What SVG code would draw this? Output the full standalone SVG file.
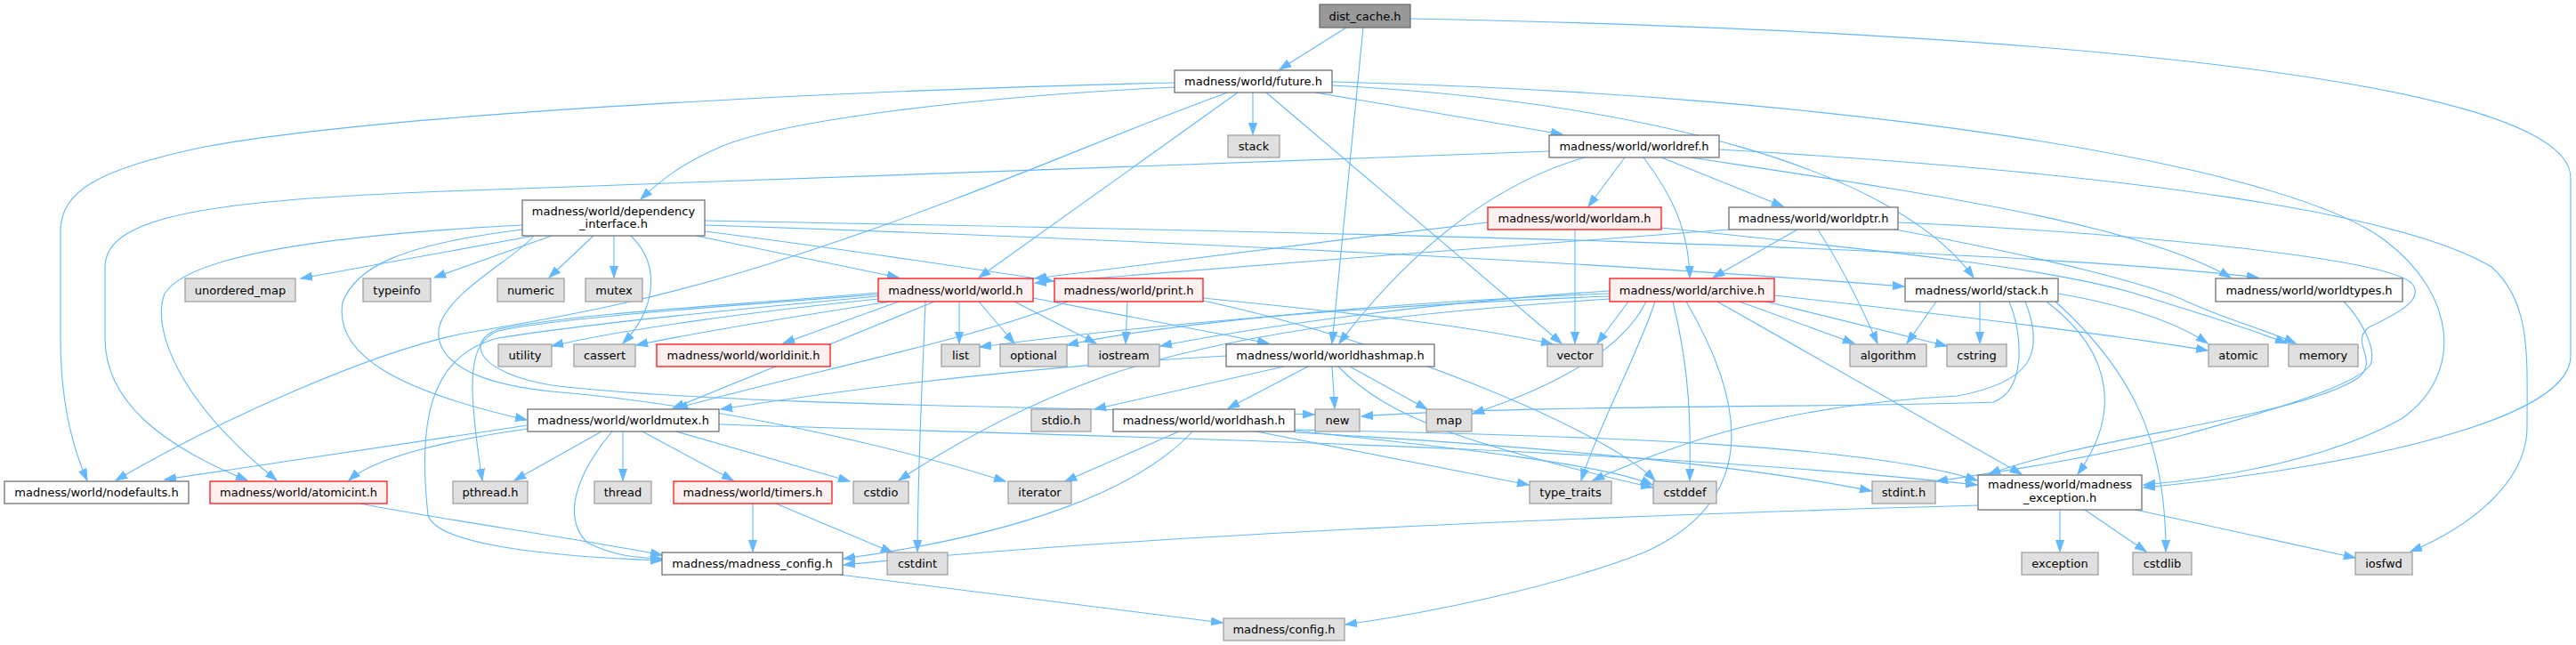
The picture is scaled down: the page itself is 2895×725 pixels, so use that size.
<svg xmlns="http://www.w3.org/2000/svg" width="2895" height="725" viewBox="0 0 2895 725">
<defs>
<marker id="a" markerWidth="14" markerHeight="10" refX="13" refY="5" orient="auto" markerUnits="userSpaceOnUse"><path d="M0,0.5 L13,5 L0,9.5 z" fill="#63b8ff" stroke="#63b8ff" stroke-width="1"/></marker>
<style>
.e path{fill:none;stroke:#63b8ff;stroke-width:1.1;marker-end:url(#a)}
rect{stroke-width:1.2}
.w rect{fill:#ffffff;stroke:#666666}
.g rect{fill:#e0e0e0;stroke:#999999}
.r rect{fill:#fff0f0;stroke:#ff0000}
.d rect{fill:#999999;stroke:#666666}
text{font-family:'DejaVu Sans',sans-serif;font-size:13px;text-anchor:middle;fill:#000000}
</style>
</defs>
<rect x="0" y="0" width="2895" height="725" fill="#ffffff"/>
<g class="e" id="edges">
<path d="M1513,31 L1438,78"/>
<path d="M1532,31 L1497,386"/>
<path d="M1585,21 C2300,35 2889,90 2889,200 L2889,400 C2889,480 2600,530 2409,548"/>
<path d="M1408,104 L1408,151"/>
<path d="M1320,98 C1100,108 880,135 810,165 C770,182 745,200 720,224"/>
<path d="M1320,93 C1000,100 450,125 230,165 C110,190 68,215 68,260 L68,380 C68,450 80,500 98,540"/>
<path d="M1380,104 C1250,150 1100,220 900,285 C750,335 640,355 520,375 C420,395 250,470 130,540"/>
<path d="M1391,104 L1100,312"/>
<path d="M1423,104 L1755,386"/>
<path d="M1478,104 L1756,151"/>
<path d="M1497,96 C1850,115 2130,190 2218,312"/>
<path d="M1497,92 C2050,105 2560,180 2680,270 C2760,330 2770,420 2700,470 C2630,510 2520,535 2409,545"/>
<path d="M1826,177 L1785,232"/>
<path d="M1847,177 C1880,220 1898,260 1899,312"/>
<path d="M1867,177 L2004,232"/>
<path d="M1741,170 C1400,182 800,205 500,215 C250,225 118,240 118,300 L118,380 C118,450 180,500 278,540"/>
<path d="M1781,177 C1700,200 1600,260 1505,386"/>
<path d="M1932,168 C2400,195 2700,240 2800,300 C2845,340 2840,400 2840,480 C2840,540 2780,590 2709,620"/>
<path d="M1900,177 C2150,215 2400,250 2507,312"/>
<path d="M1770,258 L1770,386"/>
<path d="M1672,250 C1500,270 1300,295 1163,313"/>
<path d="M1943,258 C1700,275 1400,300 1163,318"/>
<path d="M2020,258 L1925,312"/>
<path d="M2043,258 C2070,300 2090,340 2110,386"/>
<path d="M2133,250 C2400,262 2680,290 2710,318 C2725,335 2700,350 2662,368 C2640,385 2675,405 2650,425 C2580,470 2350,490 2235,533"/>
<path d="M1867,256 C2100,280 2300,300 2400,330 C2480,355 2530,370 2570,386"/>
<path d="M2130,258 C2300,290 2420,320 2460,340 C2510,362 2550,372 2580,386"/>
<path d="M2176,339 L2143,386"/>
<path d="M2225,339 L2225,386"/>
<path d="M2258,339 C2275,380 2275,440 2240,452 C2100,458 1700,455 1530,468"/>
<path d="M2276,339 C2300,400 2280,430 2200,445 C2000,455 1880,500 1790,540"/>
<path d="M2300,339 C2380,400 2380,470 2335,533"/>
<path d="M2310,339 C2400,420 2434,500 2434,620"/>
<path d="M2313,330 C2400,345 2450,365 2481,386"/>
<path d="M2634,339 C2650,355 2672,390 2664,410 C2650,432 2560,460 2450,490 C2350,515 2250,530 2176,541"/>
<path d="M1830,339 L1795,386"/>
<path d="M1860,339 C1840,400 1800,470 1777,540"/>
<path d="M1880,339 C1900,420 1900,480 1899,540"/>
<path d="M1895,339 C1960,450 1980,560 1850,620 C1750,660 1600,690 1512,702"/>
<path d="M1930,339 L2272,533"/>
<path d="M1955,339 L2084,386"/>
<path d="M1985,339 L2188,389"/>
<path d="M1994,332 C2200,355 2400,380 2481,394"/>
<path d="M1850,339 C1820,400 1730,440 1655,465"/>
<path d="M1809,336 C1600,350 1400,370 1250,420 C1150,455 1070,500 1010,540"/>
<path d="M1809,333 C1500,345 1250,370 1101,390"/>
<path d="M1809,330 C1550,340 1300,365 1199,388"/>
<path d="M1809,327 C1600,340 1400,370 1304,389"/>
<path d="M987,336 C850,350 700,370 620,389"/>
<path d="M1000,339 C900,355 800,370 715,388"/>
<path d="M1010,339 L880,386"/>
<path d="M1078,339 L1078,386"/>
<path d="M1100,339 L1140,386"/>
<path d="M1140,339 L1232,386"/>
<path d="M1161,335 L1426,386"/>
<path d="M1040,339 C1038,400 1032,500 1031,620"/>
<path d="M987,331 C800,345 620,358 560,372 C525,385 525,430 542,540"/>
<path d="M987,333 C800,350 650,365 560,380 C480,400 470,480 481,579 C490,610 600,625 744,630"/>
<path d="M987,329 C800,345 650,352 560,370 C520,385 540,420 620,433 C800,455 1200,458 1477,466"/>
<path d="M1050,339 L756,459"/>
<path d="M600,265 L338,313"/>
<path d="M620,265 L488,312"/>
<path d="M667,265 L617,312"/>
<path d="M690,265 L690,312"/>
<path d="M709,265 C745,300 735,350 700,386"/>
<path d="M782,265 L1010,312"/>
<path d="M792,260 C950,280 1080,300 1184,316"/>
<path d="M587,253 C350,265 210,290 185,330 C170,370 200,450 311,540"/>
<path d="M587,258 C450,275 400,300 385,340 C375,400 450,440 592,472"/>
<path d="M600,265 C580,290 500,330 493,370 C490,400 520,430 620,440 C800,455 1000,500 1130,541"/>
<path d="M792,253 C1300,270 1800,295 2140,322"/>
<path d="M792,248 C1300,258 2200,272 2538,312"/>
<path d="M1267,339 L1265,386"/>
<path d="M1352,335 C1500,350 1650,365 1745,387"/>
<path d="M1352,338 C1550,380 1800,480 1860,540"/>
<path d="M1200,339 C1100,380 900,420 760,459"/>
<path d="M1378,400 C1200,410 1000,430 810,460"/>
<path d="M1443,412 L1230,460"/>
<path d="M1470,412 L1380,459"/>
<path d="M1497,412 L1500,459"/>
<path d="M1517,412 L1604,460"/>
<path d="M1504,412 C1560,470 1650,500 1857,548"/>
<path d="M1325,485 L1197,541"/>
<path d="M1340,485 C1280,550 1150,600 948,628"/>
<path d="M1412,485 L1718,545"/>
<path d="M1455,484 C1600,500 1800,520 1857,545"/>
<path d="M1455,483 C1800,490 2100,500 2222,540"/>
<path d="M1455,486 C1700,500 1950,520 2103,552"/>
<path d="M593,478 L185,539"/>
<path d="M593,482 C500,495 420,515 392,540"/>
<path d="M676,485 L578,540"/>
<path d="M700,485 L700,540"/>
<path d="M722,485 L824,540"/>
<path d="M760,485 L955,541"/>
<path d="M688,485 C650,530 630,580 660,610 C690,625 715,627 744,628"/>
<path d="M808,477 C1200,490 1800,500 2222,545"/>
<path d="M846,566 L846,620"/>
<path d="M872,566 L1003,621"/>
<path d="M405,566 C500,585 650,605 744,624"/>
<path d="M2315,573 L2315,620"/>
<path d="M2343,573 L2412,620"/>
<path d="M2400,573 L2647,627"/>
<path d="M2223,568 C1800,580 1300,600 948,635"/>
<path d="M944,646 C1100,665 1250,685 1374,700"/>
</g>
<g id="n_dist" class="d"><rect x="1483" y="5" width="102" height="26"/><text x="1534" y="22.5">dist_cache.h</text></g>
<g id="n_future" class="w"><rect x="1320" y="79" width="177" height="25"/><text x="1408.5" y="96">madness/world/future.h</text></g>
<g id="n_stack" class="g"><rect x="1380" y="152" width="58" height="25"/><text x="1409" y="169">stack</text></g>
<g id="n_worldref" class="w"><rect x="1741" y="152" width="191" height="25"/><text x="1836.5" y="169">madness/world/worldref.h</text></g>
<g id="n_dep" class="w"><rect x="587" y="225" width="205" height="40"/><text x="689.5" y="241.5">madness/world/dependency</text><text x="689.5" y="255.5">_interface.h</text></g>
<g id="n_worldam" class="r"><rect x="1672" y="233" width="195" height="25"/><text x="1769.5" y="250">madness/world/worldam.h</text></g>
<g id="n_worldptr" class="w"><rect x="1943" y="233" width="190" height="25"/><text x="2038" y="250">madness/world/worldptr.h</text></g>
<g id="n_umap" class="g"><rect x="208" y="313" width="124" height="26"/><text x="270" y="330.5">unordered_map</text></g>
<g id="n_typeinfo" class="g"><rect x="408" y="313" width="76" height="26"/><text x="446" y="330.5">typeinfo</text></g>
<g id="n_numeric" class="g"><rect x="559" y="313" width="75" height="26"/><text x="596.5" y="330.5">numeric</text></g>
<g id="n_mutex" class="g"><rect x="658" y="313" width="64" height="26"/><text x="690" y="330.5">mutex</text></g>
<g id="n_world" class="r"><rect x="987" y="313" width="174" height="26"/><text x="1074" y="330.5">madness/world/world.h</text></g>
<g id="n_print" class="r"><rect x="1185" y="313" width="167" height="26"/><text x="1268.5" y="330.5">madness/world/print.h</text></g>
<g id="n_archive" class="r"><rect x="1809" y="313" width="185" height="26"/><text x="1901.5" y="330.5">madness/world/archive.h</text></g>
<g id="n_stackh" class="w"><rect x="2141" y="313" width="172" height="26"/><text x="2227" y="330.5">madness/world/stack.h</text></g>
<g id="n_worldtypes" class="w"><rect x="2490" y="313" width="210" height="26"/><text x="2595" y="330.5">madness/world/worldtypes.h</text></g>
<g id="n_utility" class="g"><rect x="560" y="387" width="60" height="25"/><text x="590" y="404">utility</text></g>
<g id="n_cassert" class="g"><rect x="645" y="387" width="69" height="25"/><text x="679.5" y="404">cassert</text></g>
<g id="n_worldinit" class="r"><rect x="738" y="387" width="195" height="25"/><text x="835.5" y="404">madness/world/worldinit.h</text></g>
<g id="n_list" class="g"><rect x="1058" y="387" width="43" height="25"/><text x="1079.5" y="404">list</text></g>
<g id="n_optional" class="g"><rect x="1124" y="387" width="75" height="25"/><text x="1161.5" y="404">optional</text></g>
<g id="n_iostream" class="g"><rect x="1223" y="387" width="80" height="25"/><text x="1263" y="404">iostream</text></g>
<g id="n_worldhashmap" class="w"><rect x="1378" y="387" width="234" height="25"/><text x="1495" y="404">madness/world/worldhashmap.h</text></g>
<g id="n_vector" class="g"><rect x="1739" y="387" width="62" height="25"/><text x="1770" y="404">vector</text></g>
<g id="n_algorithm" class="g"><rect x="2079" y="387" width="86" height="25"/><text x="2122" y="404">algorithm</text></g>
<g id="n_cstring" class="g"><rect x="2188" y="387" width="67" height="25"/><text x="2221.5" y="404">cstring</text></g>
<g id="n_atomic" class="g"><rect x="2482" y="387" width="67" height="25"/><text x="2515.5" y="404">atomic</text></g>
<g id="n_memory" class="g"><rect x="2572" y="387" width="78" height="25"/><text x="2611" y="404">memory</text></g>
<g id="n_worldmutex" class="w"><rect x="593" y="460" width="215" height="25"/><text x="700.5" y="477">madness/world/worldmutex.h</text></g>
<g id="n_stdio" class="g"><rect x="1159" y="460" width="67" height="25"/><text x="1192.5" y="477">stdio.h</text></g>
<g id="n_worldhash" class="w"><rect x="1251" y="460" width="204" height="25"/><text x="1353" y="477">madness/world/worldhash.h</text></g>
<g id="n_new" class="g"><rect x="1478" y="460" width="50" height="25"/><text x="1503" y="477">new</text></g>
<g id="n_map" class="g"><rect x="1603" y="460" width="51" height="25"/><text x="1628.5" y="477">map</text></g>
<g id="n_nodefaults" class="w"><rect x="5" y="541" width="207" height="25"/><text x="108.5" y="558">madness/world/nodefaults.h</text></g>
<g id="n_atomicint" class="r"><rect x="236" y="541" width="199" height="25"/><text x="335.5" y="558">madness/world/atomicint.h</text></g>
<g id="n_pthread" class="g"><rect x="509" y="541" width="84" height="25"/><text x="551" y="558">pthread.h</text></g>
<g id="n_thread" class="g"><rect x="668" y="541" width="64" height="25"/><text x="700" y="558">thread</text></g>
<g id="n_timers" class="r"><rect x="757" y="541" width="178" height="25"/><text x="846" y="558">madness/world/timers.h</text></g>
<g id="n_cstdio" class="g"><rect x="959" y="541" width="62" height="25"/><text x="990" y="558">cstdio</text></g>
<g id="n_iterator" class="g"><rect x="1133" y="541" width="71" height="25"/><text x="1168.5" y="558">iterator</text></g>
<g id="n_type_traits" class="g"><rect x="1719" y="541" width="92" height="25"/><text x="1765" y="558">type_traits</text></g>
<g id="n_cstddef" class="g"><rect x="1858" y="541" width="71" height="25"/><text x="1893.5" y="558">cstddef</text></g>
<g id="n_stdint" class="g"><rect x="2104" y="541" width="71" height="25"/><text x="2139.5" y="558">stdint.h</text></g>
<g id="n_mexc" class="w"><rect x="2223" y="534" width="184" height="39"/><text x="2315" y="549">madness/world/madness</text><text x="2315" y="564">_exception.h</text></g>
<g id="n_mconfig" class="w"><rect x="744" y="621" width="203" height="25"/><text x="845.5" y="638">madness/madness_config.h</text></g>
<g id="n_cstdint" class="g"><rect x="997" y="621" width="68" height="25"/><text x="1031" y="638">cstdint</text></g>
<g id="n_exception" class="g"><rect x="2272" y="621" width="86" height="25"/><text x="2315" y="638">exception</text></g>
<g id="n_cstdlib" class="g"><rect x="2397" y="621" width="66" height="25"/><text x="2430" y="638">cstdlib</text></g>
<g id="n_iosfwd" class="g"><rect x="2647" y="621" width="64" height="25"/><text x="2679" y="638">iosfwd</text></g>
<g id="n_config" class="g"><rect x="1375" y="695" width="136" height="25"/><text x="1443" y="712">madness/config.h</text></g>
</svg>
